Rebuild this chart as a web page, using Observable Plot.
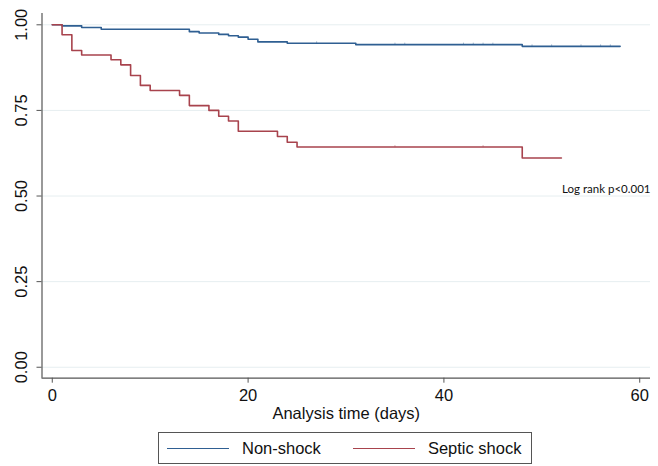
<!DOCTYPE html>
<html>
<head>
<meta charset="utf-8">
<script src="https://cdn.jsdelivr.net/npm/d3@7"></script>
<script src="https://cdn.jsdelivr.net/npm/@observablehq/plot@0.6"></script>
<style>
  html, body { margin: 0; padding: 0; background: #fff; }
  body { width: 658px; height: 466px; position: relative; overflow: hidden; font-family: "Liberation Sans", Arial, sans-serif; }
  #legend { position: absolute; left: 158px; top: 432px; width: 374px; height: 32px; border: 1px solid #555; box-sizing: border-box; display: flex; align-items: center; font-size: 16.5px; color: #111; }
  .sw { display: inline-block; width: 62px; height: 0; border-top: 1.5px solid; margin-right: 13px; }
</style>
</head>
<body>
<div id="chart"></div>
<div id="legend"></div>
<script>
// Series (Kaplan–Meier step points)
const groups = ["Non-shock", "Septic shock"];
const colors = ["#2f5f92", "#a8434d"];
const nonShockDays = [0, 1, 3, 5, 14, 15, 17, 18, 19, 20, 21, 24, 31, 48, 58];
const nonShockSurv = [1, 0.997, 0.992, 0.987, 0.980, 0.976, 0.972, 0.968, 0.964, 0.958, 0.950, 0.946, 0.942, 0.937, 0.937];
const septicDays = [0, 1, 2, 3, 6, 7, 8, 9, 10, 13, 14, 16, 17, 18, 19, 23, 24, 25, 48, 52];
const septicSurv = [1, 0.971, 0.925, 0.912, 0.898, 0.883, 0.852, 0.823, 0.808, 0.794, 0.764, 0.750, 0.733, 0.719, 0.689, 0.674, 0.657, 0.643, 0.611, 0.611];
const nonShockCensored = [27, 35, 36, 42, 43, 44, 45, 49, 51, 54, 56, 57];
const septicCensored = [35, 44];
const yTicks = [0, 0.25, 0.5, 0.75, 1];
const xTicks = [0, 20, 40, 60];
const xLabel = "Analysis time (days)";
const annotation = "Log rank p<0.001";
const annotationY = 0.521;

const rows = [];
nonShockDays.forEach((d, i) => rows.push({group: groups[0], t: d, s: nonShockSurv[i]}));
septicDays.forEach((d, i) => rows.push({group: groups[1], t: d, s: septicSurv[i]}));

function survAt(days, surv, t) {
  let v = surv[0];
  for (let i = 0; i < days.length; i++) if (days[i] <= t) v = surv[i];
  return v;
}
const cens = [];
nonShockCensored.forEach(t => cens.push({group: groups[0], t, s: survAt(nonShockDays, nonShockSurv, t)}));
septicCensored.forEach(t => cens.push({group: groups[1], t, s: survAt(septicDays, septicSurv, t)}));

const vbar = { draw(ctx, size) { const r = Math.sqrt(size / Math.PI); ctx.moveTo(0, -r); ctx.lineTo(0, 0); } };

const xDom = [-1.05, 61.1];
const yDom = [-0.032, 1.033];
const font = "'Liberation Sans', Arial, sans-serif";

const chart = Plot.plot({
  width: 658,
  height: 428,
  marginLeft: 41.5,
  marginRight: 8,
  marginTop: 13,
  marginBottom: 50.3,
  style: { fontFamily: font, fontSize: "16.5px", color: "#111", background: "#fff" },
  x: { domain: xDom },
  y: { domain: yDom },
  color: { domain: groups, range: colors },
  marks: [
    Plot.ruleY(yTicks, { stroke: "#e6eef0", strokeWidth: 1 }),
    Plot.axisY({ ticks: yTicks, tickFormat: d3.format(".2f"), tickSize: 5, tickPadding: 10, tickRotate: -90, stroke: "#555", label: null }),
    Plot.axisX({ ticks: xTicks, tickSize: 5, tickPadding: 6, stroke: "#555", label: null }),
    Plot.ruleX([xDom[0]], { stroke: "#555", strokeWidth: 1.2 }),
    Plot.ruleY([yDom[0]], { stroke: "#555", strokeWidth: 1.2 }),
    Plot.line(rows, { x: "t", y: "s", z: "group", stroke: "group", curve: "step-after", strokeWidth: 1.6 }),
    Plot.dot(cens, { x: "t", y: "s", stroke: "group", symbol: vbar, r: 2, strokeWidth: 0.7, strokeOpacity: 0.6 }),
    Plot.text([annotation], { frameAnchor: "right", y: () => annotationY, textAnchor: "end", fontFamily: "Lato, 'Open Sans', sans-serif", fontSize: 11.5, fill: "#111" }),
    Plot.text([xLabel], { frameAnchor: "bottom", dy: 41, fontSize: 16.5, fill: "#111" })
  ]
});
document.getElementById("chart").appendChild(chart);

const legend = document.getElementById("legend");
groups.forEach((g, i) => {
  const item = document.createElement("span");
  item.style.display = "inline-flex";
  item.style.alignItems = "center";
  item.style.marginLeft = i === 0 ? "8px" : "32px";
  const sw = document.createElement("span");
  sw.className = "sw";
  sw.style.borderTopColor = colors[i];
  item.appendChild(sw);
  item.appendChild(document.createTextNode(g));
  legend.appendChild(item);
});
</script>
</body>
</html>
